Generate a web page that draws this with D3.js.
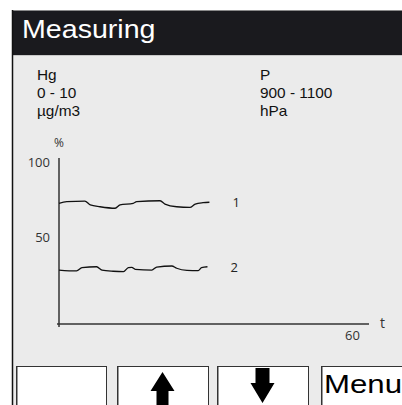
<!DOCTYPE html>
<html>
<head>
<meta charset="utf-8">
<script src="https://cdn.jsdelivr.net/npm/d3@7"></script>
<style>
  body { margin: 0; background: #fff; }
  svg { display: block; }
</style>
</head>
<body>
<script>
// screen texts
var title = "Measuring";
var infoLeft = ["Hg", "0 - 10", "\u00b5g/m3"];
var infoRight = ["P", "900 - 1100", "hPa"];
var buttons = ["", "up", "down", "Menu"];

// axes
var yTicks = [50, 100];
var xTicks = [60];
var yUnit = "%";
var xUnit = "t";

// curve 1 (time, percent)
var t1 = [0, 1.6, 5.3, 6.4, 8.4, 11.5, 12.5, 15.2, 15.9, 20.7, 21.7, 24.1, 26.8, 27.9, 29.5, 30.8];
var v1 = [73.0, 74.1, 74.5, 71.9, 70.7, 69.7, 71.9, 73.0, 74.1, 74.7, 72.5, 70.7, 70.3, 72.5, 73.4, 73.7];
// curve 2
var t2 = [0, 3.6, 4.7, 7.7, 8.8, 11.1, 13.2, 14.2, 14.9, 15.6, 19.0, 20.0, 23.1, 24.1, 26.2, 28.5, 29.2, 30.4];
var v2 = [28.5, 27.9, 30.1, 30.7, 28.5, 27.7, 27.4, 30.1, 30.3, 29.0, 28.5, 30.5, 31.2, 29.7, 28.3, 28.1, 30.1, 30.7];
var seriesNames = ["1", "2"];

var W = 402, H = 405;
var svg = d3.select("body").append("svg").attr("width", W).attr("height", H);
var sans = "Liberation Sans, Arial, sans-serif";

// panel background
svg.append("rect").attr("x", 12).attr("y", 10).attr("width", W - 12).attr("height", H - 10)
  .attr("fill", "#ebebeb");
// header bar
svg.append("rect").attr("x", 12).attr("y", 10).attr("width", W - 12).attr("height", 45)
  .attr("fill", "#1a1a1e");
svg.append("line").attr("x1", 12).attr("x2", W).attr("y1", 10.5).attr("y2", 10.5)
  .attr("stroke", "#8a8a8a").attr("stroke-width", 1);
svg.append("line").attr("x1", 12).attr("x2", W).attr("y1", 55.5).attr("y2", 55.5)
  .attr("stroke", "#c8c8c8").attr("stroke-width", 1);
// left frame
svg.append("line").attr("x1", 12.5).attr("x2", 12.5).attr("y1", 10).attr("y2", H)
  .attr("stroke", "#111").attr("stroke-width", 1.5);

// the screen font is drawn a bit wide
svg.append("text").attr("transform", "translate(22,38) scale(1.1,1)")
  .attr("font-family", sans).attr("font-size", 26)
  .attr("fill", "#fff").text(title);

// info block
function infoCol(lines, x) {
  svg.append("g").attr("transform", "translate(" + x + ",0) scale(1.1,1)")
    .selectAll("text").data(lines).enter().append("text")
    .attr("x", 0).attr("y", function(d, i) { return 80 + i * 17.8; })
    .attr("font-family", sans).attr("font-size", 14)
    .attr("fill", "#111").text(function(d) { return d; });
}
infoCol(infoLeft, 37);
infoCol(infoRight, 260);

// chart
var x = d3.scaleLinear().domain([0, 60]).range([59, 352]);
var y = d3.scaleLinear().domain([0, 100]).range([312.8, 162.8]);
var axisY0 = 324; // baseline of the time axis

var font = "Open Sans, DejaVu Sans, sans-serif";

var gy = svg.append("g").attr("transform", "translate(" + x(0) + ",0)")
  .call(d3.axisLeft(y).tickValues(yTicks).tickSize(0).tickPadding(9));
var gx = svg.append("g").attr("transform", "translate(0," + axisY0 + ")")
  .call(d3.axisBottom(x).tickValues(xTicks).tickSize(0).tickPadding(6.8));
[gy, gx].forEach(function(g) {
  g.select(".domain").remove();
  g.selectAll("text").attr("font-family", font).attr("font-size", 13).attr("fill", "#333");
});

svg.append("line").attr("x1", x(0)).attr("x2", x(0)).attr("y1", 158).attr("y2", axisY0 + 3)
  .attr("stroke", "#333").attr("stroke-width", 1.5);
svg.append("line").attr("x1", x(0) - 2).attr("x2", x(60) + 17).attr("y1", axisY0).attr("y2", axisY0)
  .attr("stroke", "#333").attr("stroke-width", 1.5);

svg.append("text").attr("x", x(0)).attr("y", 147).attr("text-anchor", "middle")
  .attr("font-family", font).attr("font-size", 12).attr("fill", "#333").text(yUnit);
svg.append("text").attr("x", x(60) + 28).attr("y", axisY0 + 4).attr("text-anchor", "start")
  .attr("font-family", font).attr("font-size", 14).attr("fill", "#333").text(xUnit);

var line = d3.line()
  .x(function(d) { return x(d[0]); })
  .y(function(d) { return y(d[1]); })
  .curve(d3.curveMonotoneX);

var series = [d3.zip(t1, v1), d3.zip(t2, v2)];
svg.append("g").selectAll("path").data(series).enter().append("path")
  .attr("d", line).attr("fill", "none").attr("stroke", "#111").attr("stroke-width", 1.3);

svg.append("g").selectAll("text").data(series).enter().append("text")
  .attr("x", function(d) { return x(d[d.length - 1][0]) + 23; })
  .attr("y", function(d) { return y(d[d.length - 1][1]) + 5; })
  .attr("font-family", font).attr("font-size", 13).attr("fill", "#222")
  .text(function(d, i) { return seriesNames[i]; });

// soft keys
var keyX = [16, 117, 217, 321];
var keyW = [90, 91, 91, 100];
var keys = svg.append("g").selectAll("g").data(buttons).enter().append("g")
  .attr("transform", function(d, i) { return "translate(" + keyX[i] + ",366)"; });
keys.append("rect").attr("x", 0.5).attr("y", 0.5)
  .attr("width", function(d, i) { return keyW[i]; }).attr("height", 60)
  .attr("fill", "#fff").attr("stroke", "#333").attr("stroke-width", 1);
keys.append("line").attr("x1", 1.5).attr("x2", 1.5).attr("y1", 1).attr("y2", 60)
  .attr("stroke", "#999").attr("stroke-width", 1);

keys.filter(function(d) { return d === "up"; }).append("path")
  .attr("transform", "translate(45.5,0)")
  .attr("d", "M0,6 L12,25 L6,25 L6,40 L-6,40 L-6,25 L-12,25 Z").attr("fill", "#000");
keys.filter(function(d) { return d === "down"; }).append("path")
  .attr("transform", "translate(45.5,0)")
  .attr("d", "M-7,2 L7,2 L7,17 L12,17 L0,37 L-12,17 L-7,17 Z").attr("fill", "#000");
keys.filter(function(d) { return d === "Menu"; }).append("text")
  .attr("transform", "translate(3,27) scale(1.2,1)").attr("font-family", sans)
  .attr("font-size", 26).attr("fill", "#000").text(function(d) { return d; });
</script>
</body>
</html>
